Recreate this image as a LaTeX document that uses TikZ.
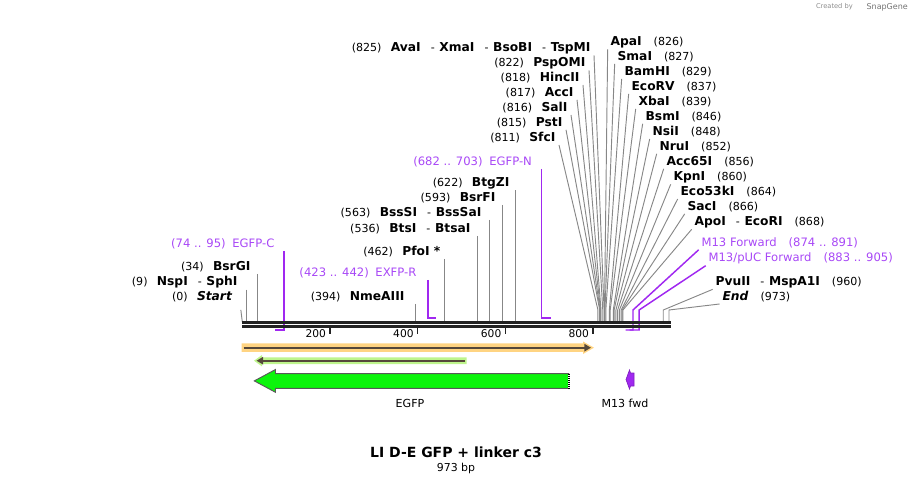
\documentclass[tikz,border=0pt]{standalone}
\usepackage{fontspec}
\setmainfont{DejaVu Sans}
\usepackage{xcolor}
\usepackage{tikz}
\usetikzlibrary{arrows.meta,positioning}

\definecolor{leadgray}{RGB}{135,135,135}
\definecolor{primerline}{RGB}{160,40,240}
\definecolor{primertext}{RGB}{168,72,246}
\definecolor{bbdark}{RGB}{34,34,34}
\definecolor{orfband}{RGB}{255,212,130}
\definecolor{orfdark}{RGB}{85,72,58}
\definecolor{transband}{RGB}{190,245,140}
\definecolor{egfpgreen}{RGB}{12,245,12}

\newcommand{\enz}[1]{{\fontsize{9.2}{10}\selectfont\bfseries #1}}
\newcommand{\numgap}{\hspace{7pt}}
\newcommand{\dashgap}{\hspace{7.5pt}-\hspace{3.5pt}}
\newcommand{\rightgap}{\hspace{9pt}}
\newcommand{\primgap}{\hspace{5pt}}

\tikzstyle{lbl} = [inner sep=1pt, font=\fontsize{8.3}{10}\selectfont]
\tikzstyle{cutL} = [lbl, anchor=east]
\tikzstyle{cutR} = [lbl, anchor=west]
\tikzstyle{primL} = [cutL, text=primertext, font=\fontsize{8.7}{10}\selectfont]
\tikzstyle{primR} = [cutR, text=primertext, font=\fontsize{8.7}{10}\selectfont]
\tikzstyle{leader} = [draw, leadgray, line width=0.7pt]
\tikzstyle{primer} = [draw, primerline, line width=1.1pt]
\tikzstyle{backbone} = [draw, bbdark, line width=2pt]
\tikzstyle{tick} = [draw, bbdark, line width=1.1pt]

\begin{document}
\begin{tikzpicture}[x=0.75pt, y=-0.75pt]
        \useasboundingbox (0,0) rectangle (913,484);

        % Single cut sites, left of their leaders
        \node [cutL] (c0) at (233.5,297) {(0)\numgap\enz{\itshape Start}};
        \coordinate (s0) at (242.3,322);
        \path [leader] ([xshift=5.5pt,yshift=-4.5pt]c0.south east) -- (s0);
        \foreach \p/\lx/\ly/\txt in {
            9/239/282/{(9)\numgap\enz{NspI}\dashgap\enz{SphI}},
            34/252/267/{(34)\numgap\enz{BsrGI}},
            394/406/297/{(394)\numgap\enz{NmeAIII}},
            462/442/252/{(462)\numgap\enz{PfoI *}},
            536/472/229/{(536)\numgap\enz{BtsI}\dashgap\enz{BtsaI}},
            563/483/213/{(563)\numgap\enz{BssSI}\dashgap\enz{BssSaI}},
            593/497/198/{(593)\numgap\enz{BsrFI}},
            622/511/183/{(622)\numgap\enz{BtgZI}}} {
            \pgfmathsetmacro\sx{242.3+0.4385*\p}
            \node [cutL] (c\p) at (\lx,\ly) {\txt};
            \coordinate (s\p) at (\sx,322);
            \path [leader] (c\p.south east -| s\p) -- (s\p);
        }

        % Fan of cut sites, left column
        \foreach \p/\lx/\ly/\txt in {
            825/592/48/{(825)\numgap\enz{AvaI}\dashgap\enz{XmaI}\dashgap\enz{BsoBI}\dashgap\enz{TspMI}},
            822/587/63/{(822)\numgap\enz{PspOMI}},
            818/581/78/{(818)\numgap\enz{HincII}},
            817/575/93/{(817)\numgap\enz{AccI}},
            816/569/108/{(816)\numgap\enz{SalI}},
            815/564/123/{(815)\numgap\enz{PstI}},
            811/557/138/{(811)\numgap\enz{SfcI}}} {
            \pgfmathsetmacro\sx{242.3+0.4385*\p}
            \node [cutL] (c\p) at (\lx,\ly) {\txt};
            \coordinate (b\p) at (\sx,310);
            \coordinate (s\p) at (\sx,322);
            \path [leader] ([xshift=1.5pt]c\p.south east) -- (b\p) -- (s\p);
        }

        % Fan of cut sites, right column
        \foreach \p/\lx/\ly/\txt in {
            826/609/42/{\enz{ApaI}\rightgap(826)},
            827/616/57/{\enz{SmaI}\rightgap(827)},
            829/623/72/{\enz{BamHI}\rightgap(829)},
            837/630/87/{\enz{EcoRV}\rightgap(837)},
            839/637/102/{\enz{XbaI}\rightgap(839)},
            846/644/117/{\enz{BsmI}\rightgap(846)},
            848/651/132/{\enz{NsiI}\rightgap(848)},
            852/658/147/{\enz{NruI}\rightgap(852)},
            856/665/162/{\enz{Acc65I}\rightgap(856)},
            860/672/177/{\enz{KpnI}\rightgap(860)},
            864/679/192/{\enz{Eco53kI}\rightgap(864)},
            866/686/207/{\enz{SacI}\rightgap(866)},
            868/693/222/{\enz{ApoI}\dashgap\enz{EcoRI}\rightgap(868)},
            960/714/282/{\enz{PvuII}\dashgap\enz{MspA1I}\rightgap(960)},
            973/721/297/{\enz{\itshape End}\rightgap(973)}} {
            \pgfmathsetmacro\sx{242.3+0.4385*\p}
            \node [cutR] (c\p) at (\lx,\ly) {\txt};
            \coordinate (b\p) at (\sx,310);
            \coordinate (s\p) at (\sx,322);
            \path [leader] ([xshift=-1pt]c\p.south west) -- (b\p) -- (s\p);
        }

        % Primers
        \node [primL] (egfpc) at (276,244) {(74 .. 95)\primgap EGFP-C};
        \coordinate (q95) at (284.0,330);
        \coordinate (q74) at (274.7,330);
        \path [primer] (egfpc.south east -| q95) -- (q95) -- (q74);

        \node [primL] (exfpr) at (418,273) {(423 .. 442)\primgap EXFP-R};
        \coordinate (q423) at (427.8,318);
        \coordinate (q442) at (436.1,318);
        \path [primer] (exfpr.south east -| q423) -- (q423) -- (q442);

        \node [primL] (egfpn) at (533.5,162) {(682 .. 703)\primgap EGFP-N};
        \coordinate (q682) at (541.4,318);
        \coordinate (q703) at (550.6,318);
        \path [primer] (egfpn.south east -| q682) -- (q682) -- (q703);

        \node [primR] (m13f) at (700,243) {M13 Forward\rightgap(874 .. 891)};
        \coordinate (k891) at (633.0,310);
        \coordinate (q891) at (633.0,330);
        \coordinate (q874) at (625.5,330);
        \path [primer] ([xshift=-1pt]m13f.south west) -- (k891) -- (q891) -- (q874);

        \node [primR] (m13puc) at (707,258.5) {M13/pUC Forward\rightgap(883 .. 905)};
        \coordinate (k905) at (639.1,310);
        \coordinate (q905) at (639.1,330);
        \coordinate (q883) at (629.5,330);
        \path [primer] ([xshift=-1pt]m13puc.south west) -- (k905) -- (q905) -- (q883);

        % Backbone and ruler
        \path [backbone] (242.3,322.3) -- (670.7,322.3);
        \path [backbone] (242.3,326.6) -- (670.7,326.6);
        \foreach \t in {200,400,600,800} {
            \pgfmathsetmacro\tx{242.3+0.4385*\t}
            \path [tick] (\tx,327.5) -- (\tx,334);
            \node [lbl, anchor=east, font=\fontsize{8}{10}\selectfont] (t\t) at (\tx-2.5,334) {\t};
        }

        % Features
        \fill [orfband] (241.7,343.5) -- (583,343.5) -- (583,341.5) -- (594,347.7)
            -- (583,354) -- (583,351.8) -- (241.7,351.8) -- cycle;
        \draw [orfdark, line width=1.5pt, -{Triangle[length=5pt,width=5.5pt]}]
            (243.5,347.7) -- (591,347.7);
        \fill [transband] (466.7,357.3) -- (262,357.3) -- (262,355) -- (254,360.7)
            -- (262,366.4) -- (262,364) -- (466.7,364) -- cycle;
        \draw [orfdark, line width=1.5pt, -{Triangle[length=5pt,width=5.5pt]}]
            (465,360.7) -- (256.5,360.7);

        \draw [fill=egfpgreen, draw=black!65, line width=0.7pt]
            (569,373.7) -- (275.5,373.7) -- (275.5,369.5) -- (254.3,380.9)
            -- (275.5,392.3) -- (275.5,388.3) -- (569,388.3);
        \draw [white, line width=0.9pt] (569,373.7) -- (569,388.3);
        \draw [black, line width=0.9pt, dash pattern=on 0.75pt off 0.75pt] (569,373.7) -- (569,388.3);
        \node [lbl] (egfp) at (410,403) {EGFP};

        \draw [fill=primerline, draw=primerline!80!black, line width=0.5pt]
            (634,373) -- (630.5,373) -- (629.5,370) -- (626,379.5)
            -- (629.5,389) -- (630.5,386) -- (634,386) -- cycle;
        \node [lbl] (m13fwd) at (625,403) {M13 fwd};

        % Title
        \node [inner sep=1pt, font=\fontsize{10.5}{12}\selectfont\bfseries] (title) at (456,452) {LI D-E GFP + linker c3};
        \node [inner sep=1pt, font=\fontsize{8.2}{10}\selectfont, below=2pt of title] (size) {973 bp};

        % Credit
        \node [inner sep=0pt, anchor=east, text=black!45, font=\fontsize{5}{6}\selectfont] (credit) at (853,7) {Created by};
        \node [inner sep=0pt, anchor=west, text=black!55, font=\fontsize{6}{7}\selectfont, right=10pt of credit] (brand) {SnapGene};
    \end{tikzpicture}
\end{document}
